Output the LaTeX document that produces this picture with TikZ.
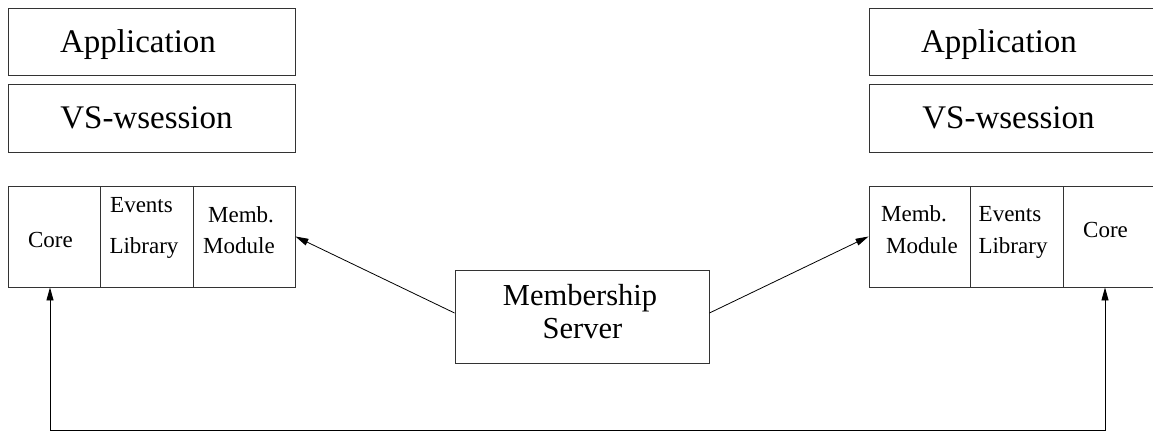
\documentclass[tikz,border=0pt]{standalone}
\usepackage{fontspec}
\setmainfont{Liberation Serif}
\usetikzlibrary{arrows.meta}
\tikzset{
  box/.style={draw=black!80, line width=0.9pt, rectangle, inner sep=0pt, minimum width=287pt},
  cell/.style={draw=black!80, line width=0.9pt, rectangle, inner sep=0pt, minimum height=101pt},
  big/.style={inner sep=0pt, anchor=base, font=\fontsize{33}{40}\selectfont},
  mid/.style={inner sep=0pt, anchor=base, font=\fontsize{30.5}{36}\selectfont},
  small/.style={inner sep=0pt, anchor=base, font=\fontsize{23}{28}\selectfont},
  arr/.style={line width=0.8pt, -{Triangle[length=13pt,width=7pt]}},
}
\begin{document}
\begin{tikzpicture}[x=1pt,y=-1pt]
\useasboundingbox (0,0) rectangle (1153,431);
\clip (0,0) rectangle (1153,431);
% left stack
\node[box, minimum height=67pt] (lappbox) at (151.5,41.5) {};
\node[box, minimum height=68pt] (lvsbox) at (151.5,118) {};
\node[cell, minimum width=92.7pt] (lcore) at (54.35,236.5) {};
\node[cell, minimum width=92.6pt] (lev) at (147,236.5) {};
\node[cell, minimum width=101.7pt] (lmem) at (244.15,236.5) {};
\node[big] (lapp) at (138,52) {Application};
\node[big] (lvs) at (146.5,128) {VS-wsession};
\node[small] (lcoret) at (50.5,247) {Core};
\node[small] (levt1) at (141.5,212) {Events};
\node[small] (levt2) at (144,253) {Library};
\node[small] (lmemt1) at (241,222) {Memb.};
\node[small] (lmemt2) at (239,253) {Module};
% right stack
\node[box, minimum height=67pt] (rappbox) at (1012.5,41.5) {};
\node[box, minimum height=68pt] (rvsbox) at (1012.5,118) {};
\node[cell, minimum width=101pt] (rmem) at (919.5,236.5) {};
\node[cell, minimum width=93pt] (rev) at (1016.5,236.5) {};
\node[cell, minimum width=93pt] (rcore) at (1109.5,236.5) {};
\node[big] (rapp) at (999,52) {Application};
\node[big] (rvs) at (1008.5,128) {VS-wsession};
\node[small] (rcoret) at (1105.5,237) {Core};
\node[small] (revt1) at (1010,221) {Events};
\node[small] (revt2) at (1013,253) {Library};
\node[small] (rmemt1) at (914,221) {Memb.};
\node[small] (rmemt2) at (922,253) {Module};
% membership server
\node[draw=black!80, line width=0.9pt, rectangle, inner sep=0pt, minimum width=254pt, minimum height=93pt] (msrv) at (582,316.5) {};
\node[mid] (msrvt1) at (580,305) {Membership};
\node[mid] (msrvt2) at (582.5,338) {Server};
% connectors
\draw[arr] ([yshift=3.5pt]msrv.west) -- (lmem.east);
\draw[arr] ([yshift=3.5pt]msrv.east) -- (rmem.west);
\draw[line width=0.9pt, {Triangle[length=13pt,width=7pt]}-{Triangle[length=13pt,width=7pt]}]
  ([xshift=-4.35pt]lcore.south) -- ++(0,143) -| ([xshift=-4.5pt]rcore.south);
\end{tikzpicture}
\end{document}
